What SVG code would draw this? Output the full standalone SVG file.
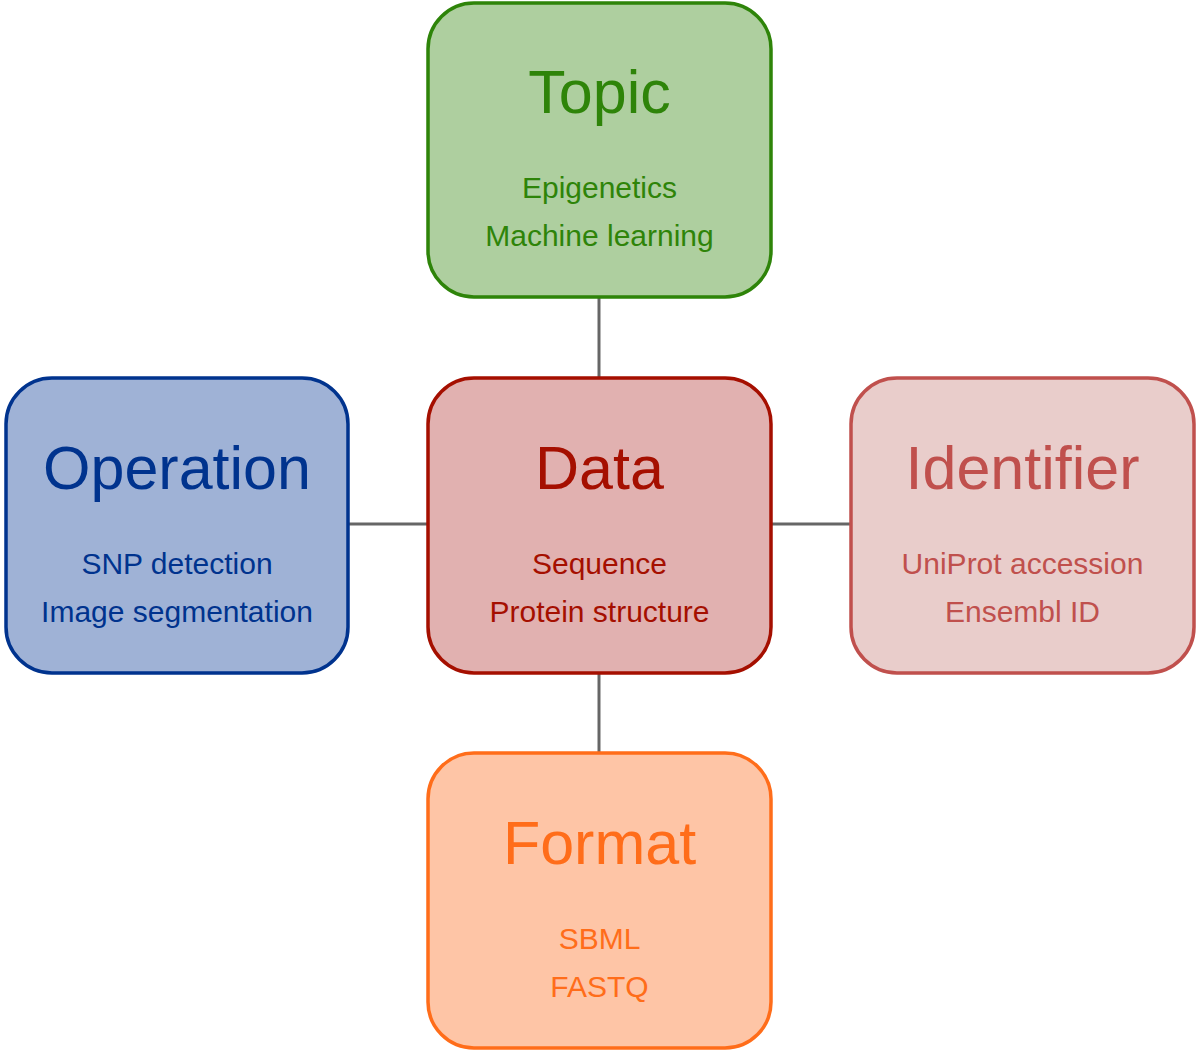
<svg xmlns="http://www.w3.org/2000/svg" width="1196" height="1050" viewBox="0 0 1196 1050">
<style>
.box{stroke-width:3.5}
.t{font-family:"Liberation Sans",Arial,sans-serif;text-anchor:middle}
.h{font-size:61px}
.s{font-size:30px}
.c{stroke:#666;stroke-width:3;fill:none}
</style>
<rect width="1196" height="1050" fill="#fff"/>
<g id="connectors">
<line class="c" x1="599" y1="297" x2="599" y2="378"/>
<line class="c" x1="599" y1="673" x2="599" y2="753"/>
<line class="c" x1="348" y1="524" x2="428" y2="524"/>
<line class="c" x1="771" y1="524" x2="851" y2="524"/>
</g>
<g id="topic">
<rect class="box" x="428" y="3" width="343" height="294" rx="46" fill="#aecf9f" stroke="#2e8409"/>
<text class="t h" x="599.5" y="113" fill="#2e8409">Topic</text>
<text class="t s" x="599.5" y="198" fill="#2e8409">Epigenetics</text>
<text class="t s" x="599.5" y="246" fill="#2e8409">Machine learning</text>
</g>
<g id="operation">
<rect class="box" x="6" y="378" width="342" height="295" rx="46" fill="#9fb2d6" stroke="#00338e"/>
<text class="t h" x="177" y="489" fill="#00338e">Operation</text>
<text class="t s" x="177" y="574" fill="#00338e">SNP detection</text>
<text class="t s" x="177" y="622" fill="#00338e">Image segmentation</text>
</g>
<g id="data">
<rect class="box" x="428" y="378" width="343" height="295" rx="46" fill="#e1b1b0" stroke="#a50f00"/>
<text class="t h" x="599.5" y="489" fill="#a50f00">Data</text>
<text class="t s" x="599.5" y="574" fill="#a50f00">Sequence</text>
<text class="t s" x="599.5" y="622" fill="#a50f00">Protein structure</text>
</g>
<g id="identifier">
<rect class="box" x="851" y="378" width="343" height="295" rx="46" fill="#e9cdcb" stroke="#c0504d"/>
<text class="t h" x="1022.5" y="489" fill="#c0504d">Identifier</text>
<text class="t s" x="1022.5" y="574" fill="#c0504d">UniProt accession</text>
<text class="t s" x="1022.5" y="622" fill="#c0504d">Ensembl ID</text>
</g>
<g id="format">
<rect class="box" x="428" y="753" width="343" height="295" rx="46" fill="#fec5a6" stroke="#ff6d1a"/>
<text class="t h" x="599.5" y="864" fill="#ff6d1a">Format</text>
<text class="t s" x="599.5" y="949" fill="#ff6d1a">SBML</text>
<text class="t s" x="599.5" y="997" fill="#ff6d1a">FASTQ</text>
</g>
</svg>
